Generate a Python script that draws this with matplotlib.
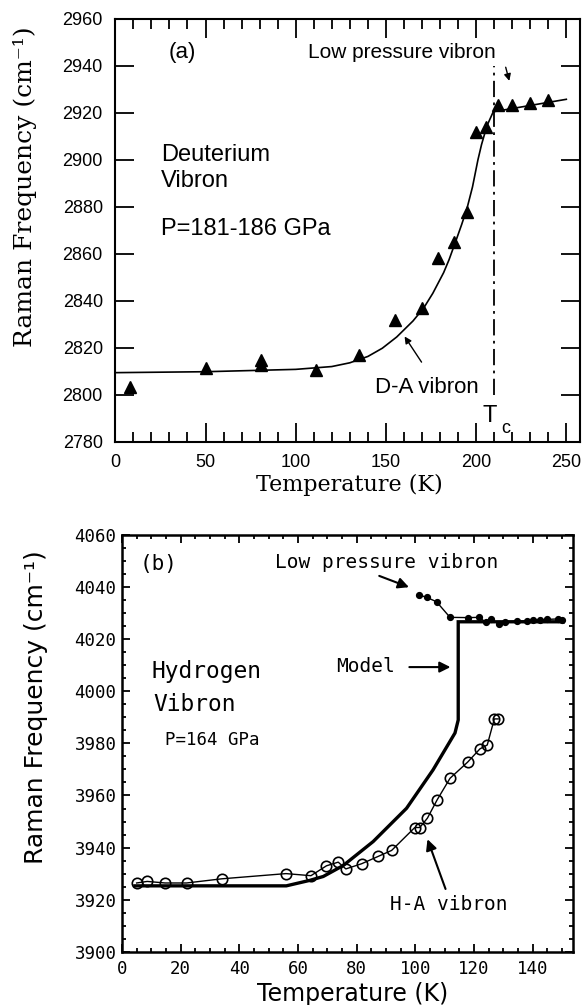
import matplotlib
matplotlib.use('Agg')
import matplotlib.pyplot as plt
from matplotlib.ticker import MultipleLocator

# ---------------- Panel (a): Deuterium vibron ----------------
d_temp = [8, 50, 81, 81, 111, 135, 155, 170, 179, 188, 195, 200, 205.5, 212, 220, 230, 240]
d_freq = [2803.3, 2811.4, 2814.8, 2812.7, 2810.5, 2816.9, 2831.8, 2836.9, 2858.2,
          2865.2, 2878.0, 2912.0, 2914.2, 2923.4, 2923.4, 2924.1, 2925.5]
d_fit_temp = [0, 50, 100, 120, 130, 140, 148, 156, 165, 171, 176, 182, 185, 189, 192,
              195, 198, 201, 203, 206, 209.5, 250]
d_fit_freq = [2809.4, 2809.8, 2810.8, 2812.0, 2813.6, 2816.3, 2819.8, 2824.6, 2831.4,
              2837.0, 2843.2, 2852.0, 2857.5, 2866.0, 2872.5, 2879.5, 2888.5, 2900.0,
              2906.5, 2914.5, 2920.5, 2925.8]
tc_temp = 210
tc_range = [2800, 2940]

# ---------------- Panel (b): Hydrogen vibron ----------------
h_temp = [5.0, 8.6, 14.7, 22.0, 34.0, 55.9, 64.4, 69.7, 73.7, 76.3, 81.7, 87.3, 91.9,
          99.8, 101.5, 104.1, 107.4, 111.8, 117.8, 122.0, 124.5, 126.9, 128.2]
h_freq = [3926.4, 3927.0, 3926.4, 3926.4, 3928.0, 3930.0, 3929.2, 3933.0, 3934.4, 3931.8,
          3933.8, 3936.6, 3938.9, 3947.7, 3947.7, 3951.3, 3958.3, 3966.6, 3972.8, 3977.9,
          3979.4, 3989.4, 3989.4]
m_temp = [4.4, 56, 64, 68.6, 75.4, 85.6, 97, 106, 113.5, 114.6, 114.6, 150.4]
m_freq = [3925.3, 3925.3, 3927.4, 3928.9, 3933.1, 3942.3, 3955.1, 3969.8, 3984.0, 3989.0,
          4026.7, 4026.7]
lp_temp = [101.3, 103.8, 107.2, 111.8, 118.0, 121.6, 123.9, 125.9, 128.5, 130.5, 134.5,
           137.9, 140.1, 142.6, 144.7, 148.6, 149.8]
lp_freq = [4037.0, 4036.1, 4034.4, 4028.4, 4028.3, 4028.4, 4026.7, 4027.6, 4025.9, 4026.7,
           4027.0, 4027.0, 4027.4, 4027.4, 4027.6, 4027.8, 4027.4]

SANS = 'Liberation Sans'
SERIF = 'DejaVu Serif'
MONO = 'DejaVu Sans Mono'

fig = plt.figure(figsize=(5.85, 10.05), dpi=100)

# ======== (a) ========
axa = fig.add_axes([0.1971, 0.5605, 0.7944, 0.4206])
axa.set_xlim(0, 257.6)
axa.set_ylim(2780, 2960)
axa.plot(d_fit_temp, d_fit_freq, color='black', lw=1.2, zorder=2)
axa.plot(d_temp, d_freq, linestyle='none', marker='^', ms=9, color='black', zorder=3)
axa.plot([tc_temp, tc_temp], tc_range, color='black', lw=1.3, linestyle=(0, (9, 3, 1.5, 3)), zorder=1)

axa.xaxis.set_major_locator(MultipleLocator(50))
axa.xaxis.set_minor_locator(MultipleLocator(10))
axa.yaxis.set_major_locator(MultipleLocator(20))
axa.tick_params(which='both', direction='in', top=True, right=True, width=1.3)
axa.tick_params(which='major', length=14)
axa.tick_params(which='minor', length=7)
axa.tick_params(axis='x', which='major', pad=9)
axa.tick_params(axis='y', which='major', pad=9)
for lab in axa.get_xticklabels() + axa.get_yticklabels():
    lab.set_fontfamily(SANS)
    lab.set_fontsize(13)
for s in axa.spines.values():
    s.set_linewidth(1.5)

axa.text(37, 2945.8, '(a)', family=SANS, fontsize=16, ha='center', va='center')
axa.text(159, 2945.8, 'Low pressure vibron', family=SANS, fontsize=15, ha='center', va='center')
axa.annotate('', xy=(218.8, 2932.5), xytext=(216, 2940.6),
             arrowprops=dict(arrowstyle='-|>', color='black', lw=1.0, mutation_scale=10))
axa.text(25.2, 2902, 'Deuterium', family=SANS, fontsize=17, ha='left', va='center')
axa.text(25.2, 2891, 'Vibron', family=SANS, fontsize=17, ha='left', va='center')
axa.text(25.2, 2870.5, 'P=181-186 GPa', family=SANS, fontsize=17, ha='left', va='center')
axa.text(172.8, 2803, 'D-A vibron', family=SANS, fontsize=16, ha='center', va='center')
axa.annotate('', xy=(159.5, 2825.8), xytext=(170.6, 2812.9),
             arrowprops=dict(arrowstyle='-|>', color='black', lw=1.0, mutation_scale=10))
axa.text(207.7, 2791, 'T', family=SANS, fontsize=17, ha='center', va='center')
axa.text(216.4, 2785.5, 'c', family=SANS, fontsize=13, ha='center', va='center')

fig.text(0.0435, 0.8144, 'Raman Frequency (cm\u207b\u00b9)', family=SERIF, fontsize=18,
         rotation=90, ha='center', va='center')
fig.text(0.5966, 0.5175, 'Temperature (K)', family=SERIF, fontsize=16, ha='center', va='center')

# ======== (b) ========
axb = fig.add_axes([0.2085, 0.0530, 0.7709, 0.4146])
axb.set_xlim(0, 153.7)
axb.set_ylim(3900, 4060)
axb.plot(m_temp, m_freq, color='black', lw=2.4, solid_joinstyle='miter', zorder=2)
axb.plot(h_temp, h_freq, color='black', lw=1.0, marker='o', ms=7.5, mfc='none',
         mec='black', mew=1.2, zorder=3)
axb.plot(lp_temp, lp_freq, color='black', lw=1.0, marker='o', ms=4.2, zorder=3)

axb.xaxis.set_major_locator(MultipleLocator(20))
axb.xaxis.set_minor_locator(MultipleLocator(5))
axb.yaxis.set_major_locator(MultipleLocator(20))
axb.yaxis.set_minor_locator(MultipleLocator(5))
axb.tick_params(which='both', direction='in', top=True, right=True, width=1.3)
axb.tick_params(which='major', length=5.5)
axb.tick_params(which='minor', length=3)
axb.tick_params(axis='x', which='major', pad=6)
axb.tick_params(axis='y', which='major', pad=4)
for lab in axb.get_xticklabels() + axb.get_yticklabels():
    lab.set_fontfamily(MONO)
    lab.set_fontsize(12.5)
for s in axb.spines.values():
    s.set_linewidth(1.8)

axb.text(12.6, 4049, '(b)', family=MONO, fontsize=15, ha='center', va='center')
axb.text(90.2, 4049.4, 'Low pressure vibron', family=MONO, fontsize=14, ha='center', va='center')
axb.annotate('', xy=(98.7, 4039.6), xytext=(86.8, 4044.7),
             arrowprops=dict(arrowstyle='-|>', color='black', lw=1.5, mutation_scale=16))
axb.text(83, 4009.5, 'Model', family=MONO, fontsize=14, ha='center', va='center')
axb.annotate('', xy=(112.9, 4009.3), xytext=(97, 4009.3),
             arrowprops=dict(arrowstyle='-|>', color='black', lw=1.5, mutation_scale=16))
axb.text(111.4, 3918, 'H-A vibron', family=MONO, fontsize=14, ha='center', va='center')
axb.annotate('', xy=(103.8, 3944.2), xytext=(110.6, 3923.1),
             arrowprops=dict(arrowstyle='-|>', color='black', lw=1.5, mutation_scale=16))
axb.text(10.1, 4007.6, 'Hydrogen', family=MONO, fontsize=16.5, ha='left', va='center')
axb.text(10.7, 3994.8, 'Vibron', family=MONO, fontsize=16.5, ha='left', va='center')
axb.text(14.6, 3981.4, 'P=164 GPa', family=MONO, fontsize=12.5, ha='left', va='center')

fig.text(0.062, 0.296, 'Raman Frequency (cm\u207b\u00b9)', family='DejaVu Sans', fontsize=18,
         rotation=90, ha='center', va='center')
fig.text(0.6026, 0.011, 'Temperature (K)', family='DejaVu Sans', fontsize=17,
         ha='center', va='center')

fig.savefig('out.png', dpi=100)
